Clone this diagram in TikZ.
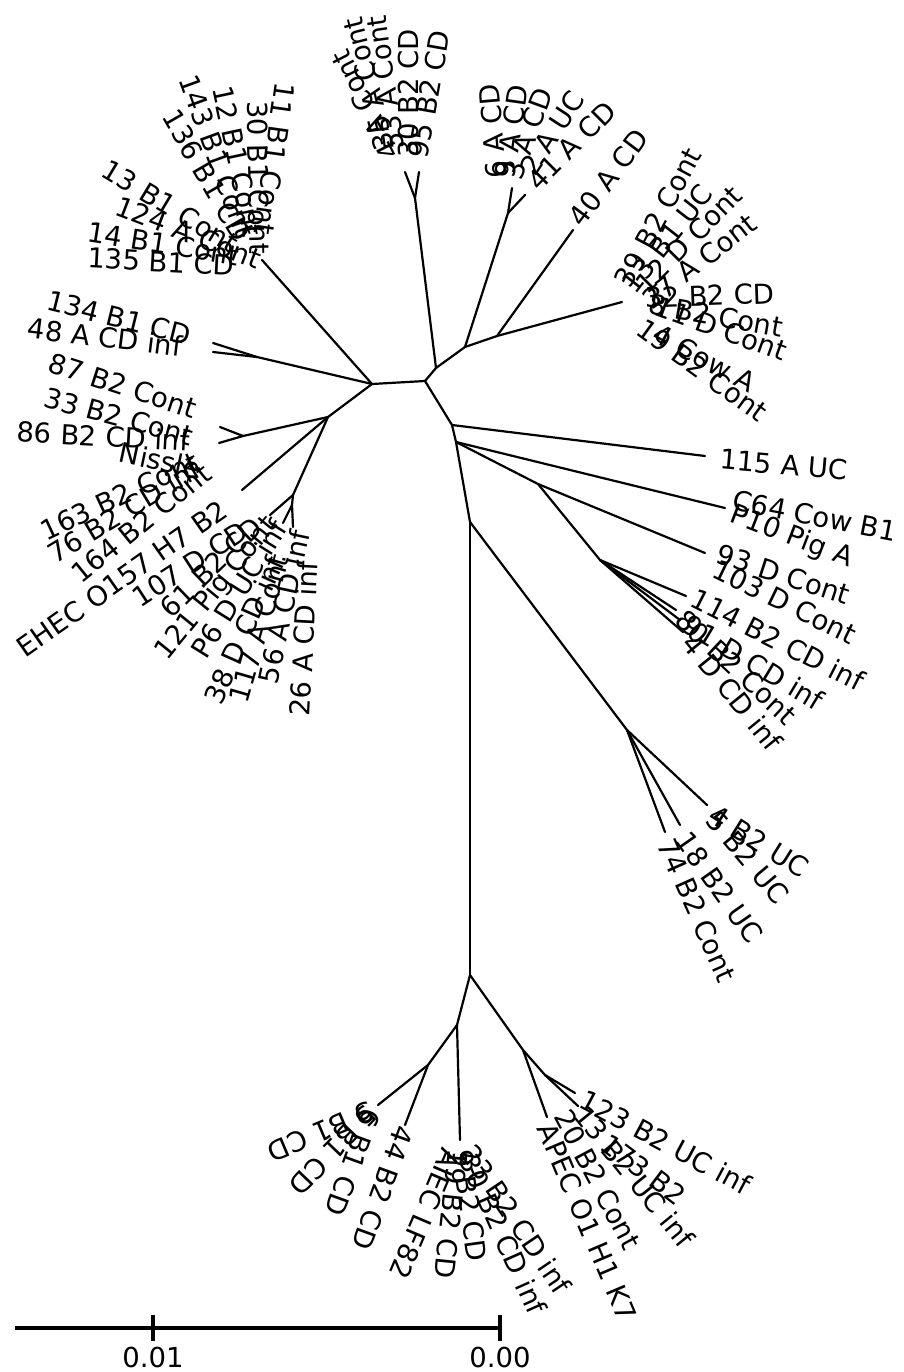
\documentclass[tikz,border=0pt]{standalone}
\usepackage{fontspec}
\setmainfont{DejaVu Sans}
\begin{document}
\begin{tikzpicture}[x=1pt,y=1pt,
  br/.style={line width=2.2pt, line cap=round},
  sbar/.style={line width=4pt},
  lab/.style={anchor=west, inner sep=0pt, outer sep=0pt, text height=20pt, text depth=0pt, font=\fontsize{27.5}{30}\selectfont},
  sclab/.style={inner sep=0pt, font=\fontsize{27.5}{30}\selectfont}]
\useasboundingbox (0,0) rectangle (903,-1372);
% internal nodes
\coordinate (A) at (372,-384);
\coordinate (B) at (425,-381);
\coordinate (B2) at (436,-368);
\coordinate (C) at (328,-417);
\coordinate (LM) at (257,-357);
\coordinate (N86) at (243,-436);
\coordinate (N26) at (293,-495);
\coordinate (N26b) at (292,-505);
\coordinate (TC) at (415,-198);
\coordinate (NE) at (465,-347);
\coordinate (TR) at (508,-213);
\coordinate (N40) at (497,-336);
\coordinate (D) at (452,-425);
\coordinate (E) at (456,-442);
\coordinate (F) at (538,-484);
\coordinate (G) at (600,-560);
\coordinate (H) at (470,-522);
\coordinate (RL) at (627,-730);
\coordinate (I) at (470,-975);
\coordinate (J) at (457,-1025);
\coordinate (K) at (428,-1065);
\coordinate (L) at (523,-1050);
\coordinate (M) at (545,-1075);
% tips
\coordinate (tTL) at (262,-260);
\coordinate (tLM1) at (213,-343);
\coordinate (tLM2) at (213,-352);
\coordinate (t86a) at (220,-427);
\coordinate (t86b) at (219,-443);
\coordinate (tEH) at (242,-490);
\coordinate (t26a) at (270,-515);
\coordinate (t26b) at (283,-523);
\coordinate (t26c) at (293,-527);
\coordinate (tTCa) at (405,-172);
\coordinate (tTCb) at (419,-172);
\coordinate (tTRa) at (512,-188);
\coordinate (tTRb) at (525,-195);
\coordinate (t40) at (573,-230);
\coordinate (tRC) at (622,-302);
\coordinate (t115) at (705,-456);
\coordinate (tC64) at (725,-508);
\coordinate (t93) at (705,-553);
\coordinate (t114) at (686,-596);
\coordinate (t80) at (676,-610);
\coordinate (t91) at (680,-620);
\coordinate (t4D) at (683,-632);
\coordinate (tR1) at (707,-805);
\coordinate (tR2) at (680,-825);
\coordinate (tR3) at (665,-832);
\coordinate (tBL) at (378,-1105);
\coordinate (t44) at (405,-1125);
\coordinate (tBC) at (460,-1140);
\coordinate (tAP) at (547,-1117);
\coordinate (tM1) at (575,-1093);
\coordinate (tM2) at (578,-1106);
% branches
\draw[br] (A) -- (B);
\draw[br] (A) -- (tTL);
\draw[br] (A) -- (LM);
\draw[br] (LM) -- (tLM1);
\draw[br] (LM) -- (tLM2);
\draw[br] (A) -- (C);
\draw[br] (C) -- (N86);
\draw[br] (N86) -- (t86a);
\draw[br] (N86) -- (t86b);
\draw[br] (C) -- (tEH);
\draw[br] (C) -- (N26);
\draw[br] (N26) -- (t26a);
\draw[br] (N26) -- (N26b);
\draw[br] (N26b) -- (t26b);
\draw[br] (N26b) -- (t26c);
\draw[br] (B) -- (B2);
\draw[br] (B2) -- (TC);
\draw[br] (TC) -- (tTCa);
\draw[br] (TC) -- (tTCb);
\draw[br] (B2) -- (NE);
\draw[br] (NE) -- (TR);
\draw[br] (TR) -- (tTRa);
\draw[br] (TR) -- (tTRb);
\draw[br] (NE) -- (N40);
\draw[br] (N40) -- (t40);
\draw[br] (N40) -- (tRC);
\draw[br] (B) -- (D);
\draw[br] (D) -- (t115);
\draw[br] (D) -- (E);
\draw[br] (E) -- (tC64);
\draw[br] (E) -- (F);
\draw[br] (F) -- (t93);
\draw[br] (F) -- (G);
\draw[br] (G) -- (t114);
\draw[br] (G) -- (t80);
\draw[br] (G) -- (t91);
\draw[br] (G) -- (t4D);
\draw[br] (E) -- (H);
\draw[br] (H) -- (RL);
\draw[br] (RL) -- (tR1);
\draw[br] (RL) -- (tR2);
\draw[br] (RL) -- (tR3);
\draw[br] (H) -- (I);
\draw[br] (I) -- (J);
\draw[br] (J) -- (K);
\draw[br] (K) -- (tBL);
\draw[br] (K) -- (t44);
\draw[br] (J) -- (tBC);
\draw[br] (I) -- (L);
\draw[br] (L) -- (tAP);
\draw[br] (L) -- (M);
\draw[br] (M) -- (tM1);
\draw[br] (M) -- (tM2);
% labels top-left
\node[lab,rotate=-98] (l1) at (285,-83) {11 B1 Cont};
\node[lab,rotate=-89] (l2) at (257,-101) {30 B1 Cont};
\node[lab,rotate=-78] (l3) at (222,-86) {12 B1 Cont};
\node[lab,rotate=-70] (l4) at (188,-76) {143 B1 Cont};
\node[lab,rotate=-60] (l5) at (170,-112) {136 B1 CD};
\node[lab,rotate=-31] (l6) at (105,-167) {13 B1 Cont};
\node[lab,rotate=-21] (l7) at (117,-205) {124 A Cont};
\node[lab,rotate=-9] (l8) at (88,-232) {14 B1 Cont};
\node[lab,rotate=-3] (l9) at (88,-258) {135 B1 CD};
% left middle
\node[lab,rotate=-14] (l10) at (48,-300) {134 B1 CD};
\node[lab,rotate=-7] (l11) at (28,-328) {48 A CD inf};
\node[lab,rotate=-18] (l12) at (50,-362) {87 B2 Cont};
\node[lab,rotate=-15] (l13) at (45,-397) {33 B2 Cont};
\node[lab,rotate=-3] (l14) at (17,-432) {86 B2 CD inf};
\node[lab,rotate=-12] (l15) at (120,-452) {Nissle};
\node[lab,rotate=25] (l16) at (42,-532) {163 B2 Cont};
\node[lab,rotate=31] (l17) at (50,-556) {76 B2 CD inf};
\node[lab,rotate=39] (l18) at (75,-577) {164 B2 Cont};
\node[lab,rotate=35] (l19) at (20,-650) {EHEC O157 H7 B2};
\node[lab,rotate=33] (l20) at (135,-600) {107 D CD};
\node[lab,rotate=44] (l21) at (165,-612) {61 B2 CD};
\node[lab,rotate=51] (l22) at (160,-655) {121 Pig Cont};
\node[lab,rotate=58] (l23) at (198,-655) {P6 D UC inf};
\node[lab,rotate=66] (l24) at (212,-702) {38 D CD inf};
\node[lab,rotate=74] (l25) at (238,-702) {117 A Cont};
\node[lab,rotate=78] (l26) at (268,-683) {56 A CD inf};
\node[lab,rotate=87] (l27) at (300,-716) {26 A CD inf};
% top centre
\node[lab,rotate=117] (l28) at (392,-158) {4 A Cont};
\node[lab,rotate=104] (l29) at (385,-150) {35 A Cont};
\node[lab,rotate=98] (l30) at (395,-150) {53 A Cont};
\node[lab,rotate=90] (l31) at (408,-158) {30 B2 CD};
\node[lab,rotate=80] (l32) at (418,-158) {95 B2 CD};
% top right
\node[lab,rotate=95] (l33) at (497,-178) {6 A CD};
\node[lab,rotate=82] (l34) at (505,-178) {9 A CD};
\node[lab,rotate=70] (l35) at (512,-178) {3 A CD};
\node[lab,rotate=57] (l36) at (527,-172) {2 A UC};
\node[lab,rotate=45] (l37) at (532,-185) {41 A CD};
\node[lab,rotate=53] (l38) at (575,-222) {40 A CD};
% right cluster
\node[lab,rotate=62] (l39) at (622,-285) {39 B2 Cont};
\node[lab,rotate=52] (l40) at (628,-289) {13 B1 UC};
\node[lab,rotate=45] (l41) at (640,-288) {12 D Cont};
\node[lab,rotate=38] (l42) at (646,-303) {27 A Cont};
\node[lab,rotate=2] (l43) at (645,-298) {32 B2 CD};
\node[lab,rotate=-10] (l44) at (649,-304) {8 B2 Cont};
\node[lab,rotate=-20] (l45) at (656,-305) {11 D Cont};
\node[lab,rotate=-28] (l46) at (655,-332) {4 Cow A};
\node[lab,rotate=-36] (l47) at (640,-325) {19 B2 Cont};
% right
\node[lab,rotate=-5] (l48) at (720,-459) {115 A UC};
\node[lab,rotate=-11] (l49) at (733,-500) {C64 Cow B1};
\node[lab,rotate=-21] (l50) at (732,-512) {P10 Pig A};
\node[lab,rotate=-18] (l51) at (718,-553) {93 D Cont};
\node[lab,rotate=-26] (l52) at (715,-568) {103 D Cont};
\node[lab,rotate=-27] (l53) at (693,-597) {114 B2 CD inf};
\node[lab,rotate=-43] (l54) at (680,-615) {80 B2 Cont};
\node[lab,rotate=-31] (l55) at (686,-622) {91 D CD inf};
\node[lab,rotate=-51] (l56) at (688,-638) {4 D CD inf};
% right lower
\node[lab,rotate=-32] (l57) at (712,-812) {4 B2 UC};
\node[lab,rotate=-50] (l58) at (712,-815) {5 B2 UC};
\node[lab,rotate=-55] (l59) at (683,-835) {18 B2 UC};
\node[lab,rotate=-66] (l60) at (666,-840) {74 B2 Cont};
% bottom
\node[lab,rotate=-157] (l61) at (372,-1110) {3 B1 CD};
\node[lab,rotate=-134] (l62) at (372,-1110) {5 B1 CD};
\node[lab,rotate=-110] (l63) at (372,-1110) {6 B1 CD};
\node[lab,rotate=-110] (l64) at (405,-1127) {44 B2 CD};
\node[lab,rotate=-113] (l65) at (452,-1150) {AIEC LF82};
\node[lab,rotate=-96] (l66) at (458,-1150) {19 B2 CD};
\node[lab,rotate=-82] (l67) at (462,-1150) {9 B2 CD};
\node[lab,rotate=-66] (l68) at (468,-1155) {30 B2 CD inf};
\node[lab,rotate=-56] (l69) at (468,-1148) {23 B2 CD inf};
\node[lab,rotate=-67] (l70) at (546,-1125) {APEC O1 H1 K7};
\node[lab,rotate=-62] (l71) at (562,-1112) {20 B2 Cont};
\node[lab,rotate=-51] (l72) at (580,-1110) {13 B2 UC inf};
\node[lab,rotate=-37] (l73) at (605,-1140) {173 B2};
\node[lab,rotate=-28] (l74) at (582,-1098) {123 B2 UC inf};
% scale bar
\coordinate (s0) at (15,-1328);
\coordinate (s1) at (153,-1328);
\coordinate (s2) at (500,-1328);
\draw[sbar] (s0) -- (s2);
\draw[sbar] ([yshift=13pt]s1) -- ([yshift=-13pt]s1);
\draw[sbar] ([yshift=13pt]s2) -- ([yshift=-13pt]s2);
\node[sclab] (sl1) at (153,-1357) {0.01};
\node[sclab] (sl2) at (500,-1357) {0.00};
\end{tikzpicture}
\end{document}
